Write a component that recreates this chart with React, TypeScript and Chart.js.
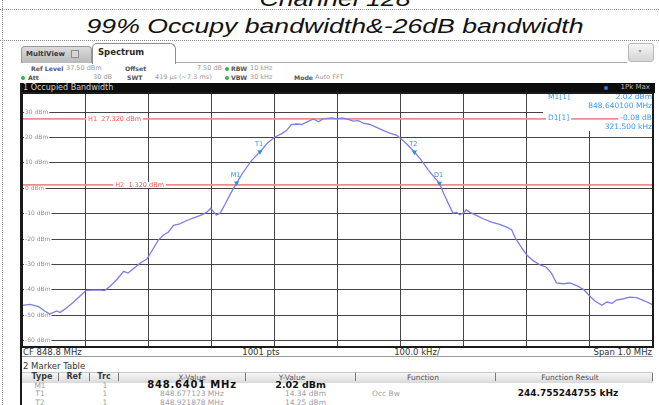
import React, { useEffect, useRef } from "react";
import { Chart, registerables } from "chart.js";

Chart.register(...registerables);

// ---------- data ----------
const START_FREQ_MHZ = 848.3;
const SPAN_KHZ = 1000;

const offsetKHz = [
  0, 13, 26, 36, 44, 50, 55, 60, 68, 81, 92, 102, 113, 124, 131, 140, 150, 161, 168, 176,
  187, 198, 205, 216, 224, 232, 240, 250, 261, 271, 285, 293, 299, 303, 308, 314, 322, 330,
  340.1, 351, 364, 377.1, 388, 400, 411, 419, 427, 435, 443, 451, 462, 470, 477, 491, 500,
  507, 517, 525, 533, 541, 551, 562, 573, 583, 594, 602, 610, 621.9, 631, 644, 661.6, 668,
  676, 683, 689, 694, 699, 704, 710, 721, 731, 744, 757, 768, 776, 781, 789, 800, 810, 821,
  831, 839, 847, 858, 868, 879, 890, 899, 908, 919, 927, 935, 942, 953, 963, 974, 987, 1000,
];

const levelDbm = [
  -46.1, -45.7, -46.6, -48.3, -49.5, -48.9, -48.3, -48.9, -47.6, -45.0, -42.4, -40.2, -40.1,
  -40.1, -40.3, -38.5, -36.0, -32.7, -33.4, -31.8, -29.5, -27.9, -25.0, -20.4, -18.5, -17.2,
  -14.6, -14.0, -12.7, -11.8, -10.5, -9.4, -7.9, -9.1, -10.5, -9.8, -6.2, -2.3,
  2.0, 6.5, 11.0, 14.3, 17.5, 20.1, 21.4, 22.7, 25.1, 25.3, 25.1, 26.0, 27.3, 26.2, 27.3,
  27.7, 27.3, 27.7, 27.1, 26.4, 26.6, 25.6, 25.1, 24.0, 22.7, 21.7, 20.8, 19.2, 17.3, 14.25,
  11.7, 7.1, 1.9, -1.9, -6.2, -9.8, -9.5, -10.4, -9.8, -8.5, -9.5, -10.8, -12.0, -13.3,
  -14.2, -15.3, -16.3, -19.2, -22.4, -26.3, -28.5, -30.2, -31.1, -33.4, -37.3, -37.6, -37.3,
  -38.3, -39.9, -42.2, -44.4, -46.1, -44.8, -45.3, -44.0, -43.5, -42.9, -43.1, -44.4, -45.9,
];

const gridKHz = [100, 200, 300, 400, 500, 600, 700, 800, 900];
const yTickDbm = [30, 20, 10, 0, -10, -20, -30, -40, -50, -60];
const Y_MIN = -62.5;
const Y_MAX = 37.5;

const lineNames = ["H1", "H2"];
const lineLevels = [27.32, 1.32];

const markerNames = ["M1", "T1", "T2", "D1"];
const markerKHz = [340.1, 377.123, 621.878, 661.6];
const markerDbm = [2.02, 14.34, 14.25, 1.94];

const deltaDb = -0.08;
const deltaKHz = 321.5;
const occBwText = "244.755244755 kHz";

const UI = '"DejaVu Sans", Verdana, sans-serif';
const TITLE_FONT = '"Liberation Sans", Arial, sans-serif';

// ---------- plugin ----------
const decor = {
  id: "decor",
  beforeDraw(chart: any) {
    const { ctx, chartArea: a } = chart;
    ctx.save();
    ctx.fillStyle = "#ffffff";
    ctx.fillRect(a.left, a.top, a.right - a.left, a.bottom - a.top);
    ctx.restore();
  },
  beforeDatasetsDraw(chart: any) {
    const { ctx, chartArea: a } = chart;
    ctx.save();
    ctx.fillStyle = "#ffffff";
    ctx.fillRect(a.right - 110, a.top + 1, 109, 37);
    ctx.restore();
  },
  afterDatasetsDraw(chart: any) {
    const { ctx, chartArea: a, scales } = chart;
    const x = scales.x;
    const y = scales.y;
    ctx.save();
    ctx.textBaseline = "middle";

    // H line labels
    const labelAt = [100, 143];
    ctx.font = `6.5px ${UI}`;
    ctx.textAlign = "left";
    lineNames.forEach((n, i) => {
      const px = x.getPixelForValue(labelAt[i]);
      const py = y.getPixelForValue(lineLevels[i]);
      const t = `${n}  ${lineLevels[i].toFixed(3)} dBm`;
      const w = ctx.measureText(t).width;
      ctx.fillStyle = "#ffffff";
      ctx.fillRect(px + 1, py - 3, w + 4, 6);
      ctx.fillStyle = "#e8605a";
      ctx.fillText(t, px + 3, py);
    });

    // marker labels
    ctx.font = `6.5px ${UI}`;
    ctx.textAlign = "center";
    ctx.fillStyle = "#3592d8";
    markerNames.forEach((n, i) => {
      const px = x.getPixelForValue(markerKHz[i]);
      const py = y.getPixelForValue(markerDbm[i]);
      ctx.fillText(n, px - 1, py - 8);
    });

    // readout box
    const col = "#3d9be3";
    const r = a.right - 1;
    const l = a.right - 105;
    const put = (t: string, xx: number, yy: number, align: string) => {
      ctx.textAlign = align;
      const w = ctx.measureText(t).width;
      const x0 = align === "right" ? xx - w : xx;
      ctx.fillStyle = "#ffffff";
      ctx.fillRect(x0 - 2, yy - 4, w + 4, 8);
      ctx.fillStyle = col;
      ctx.fillText(t, xx, yy);
    };
    ctx.font = `7.5px ${UI}`;
    put("M1[1]", l, a.top + 4, "left");
    put(`${markerDbm[0].toFixed(2)} dBm`, r, a.top + 4, "right");
    put(`${(START_FREQ_MHZ + markerKHz[0] / 1000).toFixed(6)} MHz`, r, a.top + 13, "right");
    put("D1[1]", l, a.top + 25, "left");
    put(`${deltaDb.toFixed(2)} dB`, r, a.top + 25, "right");
    put(`${deltaKHz.toFixed(3)} kHz`, r, a.top + 34, "right");

    // frame
    ctx.strokeStyle = "#1a1a1a";
    ctx.lineWidth = 2;
    ctx.strokeRect(a.left, a.top, a.right - a.left, a.bottom - a.top);
    ctx.restore();
  },
};

// ---------- text helper ----------
type TP = {
  x: number;
  y: number;
  s: number;
  c?: string;
  b?: boolean;
  a?: "l" | "c" | "r";
  f?: string;
  ls?: number;
  children: React.ReactNode;
};
const T = ({ x, y, s, c = "#333", b = false, a = "l", f = UI, ls = 0, children }: TP) => (
  <div
    style={{
      position: "absolute",
      left: x,
      top: y - s * 0.6,
      fontSize: s,
      lineHeight: `${s * 1.2}px`,
      color: c,
      fontWeight: b ? "bold" : "normal",
      fontFamily: f,
      whiteSpace: "nowrap",
      letterSpacing: ls,
      transform: a === "c" ? "translateX(-50%)" : a === "r" ? "translateX(-100%)" : undefined,
    }}
  >
    {children}
  </div>
);

const Dot = ({ x, y, c }: { x: number; y: number; c: string }) => (
  <div
    style={{
      position: "absolute",
      left: x - 2,
      top: y - 2,
      width: 4,
      height: 4,
      borderRadius: 2,
      background: c,
    }}
  />
);

const Sep = ({ x }: { x: number }) => (
  <div style={{ position: "absolute", left: x, top: 373, width: 1, height: 8, background: "#777" }} />
);

export default function App() {
  const ref = useRef<HTMLCanvasElement | null>(null);

  useEffect(() => {
    if (!ref.current) return;
    const chart = new Chart(ref.current, {
      type: "line",
      data: {
        datasets: [
          {
            label: "markers",
            data: markerKHz.map((v, i) => ({ x: v, y: markerDbm[i] })),
            showLine: false,
            pointStyle: "triangle",
            rotation: 180,
            pointRadius: 3,
            pointBackgroundColor: "#2f8fd6",
            pointBorderColor: "#2f8fd6",
            pointBorderWidth: 0,
          } as any,
          {
            label: "trace",
            data: offsetKHz.map((v, i) => ({ x: v, y: levelDbm[i] })),
            borderColor: "#7b7fe3",
            borderWidth: 1.3,
            pointRadius: 0,
            tension: 0,
          },
          ...lineLevels.map((lv, i) => ({
            label: lineNames[i],
            data: [
              { x: 0, y: lv },
              { x: SPAN_KHZ, y: lv },
            ],
            borderColor: "#f08c8c",
            borderWidth: 1.6,
            pointRadius: 0,
          })),
        ],
      },
      options: {
        animation: false,
        responsive: false,
        devicePixelRatio: 1,
        events: [],
        layout: { padding: { left: 22, right: 6, top: 93, bottom: 58 } },
        plugins: { legend: { display: false }, tooltip: { enabled: false } },
        scales: {
          x: {
            type: "linear",
            min: 0,
            max: SPAN_KHZ,
            afterBuildTicks: (s: any) => {
              s.ticks = gridKHz.map((v) => ({ value: v }));
            },
            afterFit: (s: any) => {
              s.height = 0;
            },
            ticks: { display: false },
            grid: { color: "#444444", lineWidth: 1, drawTicks: false },
            border: { display: false },
          },
          y: {
            type: "linear",
            min: Y_MIN,
            max: Y_MAX,
            afterBuildTicks: (s: any) => {
              s.ticks = yTickDbm.map((v) => ({ value: v }));
            },
            afterFit: (s: any) => {
              s.width = 0;
            },
            ticks: {
              mirror: true,
              padding: 3,
              autoSkip: false,
              color: "#8f8f8f",
              font: { size: 6, family: UI },
              callback: (v: any) => `${v} dBm`,
              showLabelBackdrop: true,
              backdropColor: "#ffffff",
              backdropPadding: { top: 0, bottom: 0, left: 1, right: 1 },
            },
            grid: { color: "#444444", lineWidth: 1, drawTicks: false },
            border: { display: false },
          },
        },
      } as any,
      plugins: [decor],
    });
    return () => chart.destroy();
  }, []);

  return (
    <div
      style={{
        position: "fixed",
        left: 0,
        top: 0,
        width: 659,
        height: 405,
        background: "#ffffff",
        overflow: "hidden",
      }}
    >
      {/* dotted page lines */}
      <div style={{ position: "absolute", left: 0, top: 9, width: 659, borderTop: "1px dotted #8a8a8a" }} />
      <div style={{ position: "absolute", left: 0, top: 40, width: 659, borderTop: "1px dotted #8a8a8a" }} />
      <div style={{ position: "absolute", left: 2, top: 0, height: 405, borderLeft: "1px dotted #8a8a8a" }} />

      {/* titles */}
      <div
        style={{
          position: "absolute",
          left: 335,
          top: -12.9,
          fontFamily: TITLE_FONT,
          fontStyle: "italic",
          fontSize: 20,
          lineHeight: "24px",
          color: "#111",
          whiteSpace: "nowrap",
          transform: "translateX(-50%) scaleX(1.33)",
        }}
      >
        Channel 128
      </div>
      <div
        style={{
          position: "absolute",
          left: 335,
          top: 13.6,
          fontFamily: TITLE_FONT,
          fontStyle: "italic",
          fontSize: 20,
          lineHeight: "24px",
          color: "#111",
          whiteSpace: "nowrap",
          transform: "translateX(-50%) scaleX(1.33)",
        }}
      >
        99% Occupy bandwidth&amp;-26dB bandwidth
      </div>

      {/* tab bar */}
      <div style={{ position: "absolute", left: 175, top: 62, width: 452, height: 1, background: "#a8a8a8" }} />
      <div
        style={{
          position: "absolute",
          left: 21,
          top: 46,
          width: 69,
          height: 16,
          borderRadius: "4px 4px 0 0",
          border: "1px solid #9a9a9a",
          borderBottom: "none",
          background: "linear-gradient(#dcdcdc, #b9b9b9)",
        }}
      />
      <T x={26} y={54} s={7} b c="#3a3a3a">MultiView</T>
      <div
        style={{
          position: "absolute",
          left: 71,
          top: 50,
          width: 6,
          height: 6,
          border: "1px solid #8c8c8c",
          background: "#d6d6d6",
        }}
      />
      <div
        style={{
          position: "absolute",
          left: 92,
          top: 43,
          width: 82,
          height: 20,
          borderRadius: "5px 6px 0 0",
          border: "1px solid #8c8c8c",
          borderBottom: "none",
          background: "#ffffff",
        }}
      />
      <T x={98} y={52.5} s={8.5} b c="#2a2a2a">Spectrum</T>
      <div
        style={{
          position: "absolute",
          left: 628,
          top: 43,
          width: 24,
          height: 17,
          borderRadius: 3,
          border: "1px solid #b8b8b8",
          background: "linear-gradient(#f6f6f6, #d4d4d4)",
        }}
      />
      <T x={640} y={51} s={6} c="#999" a="c">▾</T>

      {/* info lines */}
      <T x={31} y={69} s={6.2} b c="#555">Ref Level</T>
      <T x={66} y={69} s={6.5} c="#9a9a9a">37.50 dBm</T>
      <T x={125} y={69} s={6.2} b c="#555">Offset</T>
      <T x={222} y={69} s={6.5} c="#9a9a9a" a="r">7.50 dB</T>
      <Dot x={227} y={69} c="#3cae4a" />
      <T x={231} y={69} s={6.2} b c="#555">RBW</T>
      <T x={250} y={69} s={6.5} c="#9a9a9a">10 kHz</T>

      <Dot x={23} y={77.5} c="#3cae4a" />
      <T x={28} y={77.5} s={6.2} b c="#555">Att</T>
      <T x={112} y={77.5} s={6.5} c="#9a9a9a" a="r">30 dB</T>
      <T x={127} y={77.5} s={6.2} b c="#555">SWT</T>
      <T x={155} y={77.5} s={6.5} c="#9a9a9a">419 µs (~7.3 ms)</T>
      <Dot x={227} y={77.5} c="#3cae4a" />
      <T x={231} y={77.5} s={6.2} b c="#555">VBW</T>
      <T x={250} y={77.5} s={6.5} c="#9a9a9a">30 kHz</T>
      <T x={294} y={77.5} s={6.2} b c="#555">Mode</T>
      <T x={315} y={77.5} s={6.5} c="#9a9a9a">Auto FFT</T>

      {/* black header bar */}
      <div style={{ position: "absolute", left: 20, top: 83, width: 635, height: 10, background: "#0c0c0c" }} />
      <T x={23} y={87.5} s={8} c="#d0d0d0">1 Occupied Bandwidth</T>
      <Dot x={606} y={87.5} c="#3a6fe0" />
      <T x={650} y={87.5} s={7} c="#b8b8b8" a="r">1Pk Max</T>

      {/* left window frame */}
      <div style={{ position: "absolute", left: 20, top: 83, width: 2, height: 322, background: "#1a1a1a" }} />

      {/* bottom strip */}
      <div
        style={{
          position: "absolute",
          left: 22,
          top: 347,
          width: 631,
          height: 9,
          background: "#ffffff",
          borderBottom: "1px solid #9a9a9a",
        }}
      />
      <T x={23} y={352} s={8.5} c="#333">CF 848.8 MHz</T>
      <T x={261} y={352} s={8.5} c="#333" a="c">1001 pts</T>
      <T x={417} y={352} s={8.5} c="#333" a="c">100.0 kHz/</T>
      <T x={652} y={352} s={8.5} c="#333" a="r">Span 1.0 MHz</T>

      {/* marker table */}
      <T x={23} y={366} s={8.5} c="#333">2 Marker Table</T>
      <div
        style={{
          position: "absolute",
          left: 22,
          top: 372,
          width: 631,
          height: 10,
          background: "linear-gradient(#f7f7f7, #d9d9d9)",
          borderTop: "1px solid #c8c8c8",
        }}
      />
      <Sep x={58} />
      <Sep x={89} />
      <Sep x={118} />
      <Sep x={245} />
      <Sep x={355} />
      <Sep x={495} />
      <Sep x={652} />
      <T x={42} y={377} s={8} b c="#3a3a3a" a="c">Type</T>
      <T x={74} y={377} s={8} b c="#3a3a3a" a="c">Ref</T>
      <T x={104} y={377} s={8} b c="#3a3a3a" a="c">Trc</T>
      <T x={192} y={377} s={7.5} c="#555" a="c">X-Value</T>
      <T x={292} y={377} s={7.5} c="#555" a="c">Y-Value</T>
      <T x={423} y={377} s={7.5} c="#555" a="c">Function</T>
      <T x={570} y={377} s={7.5} c="#555" a="c">Function Result</T>

      <T x={40} y={385} s={7.5} c="#a0a0a0" a="c">{markerNames[0]}</T>
      <T x={105} y={385} s={7.5} c="#a0a0a0" a="c">1</T>
      <T x={192} y={385} s={10} b c="#111" a="c" ls={0.8}>
        {`${(START_FREQ_MHZ + markerKHz[0] / 1000).toFixed(4)} MHz`}
      </T>
      <T x={326} y={385} s={9.5} b c="#111" a="r">{`${markerDbm[0].toFixed(2)} dBm`}</T>

      <T x={40} y={393.5} s={7.5} c="#a0a0a0" a="c">{markerNames[1]}</T>
      <T x={105} y={393.5} s={7.5} c="#a0a0a0" a="c">1</T>
      <T x={192} y={393.5} s={7.5} c="#a0a0a0" a="c">
        {`${(START_FREQ_MHZ + markerKHz[1] / 1000).toFixed(6)} MHz`}
      </T>
      <T x={326} y={393.5} s={7.5} c="#a0a0a0" a="r">{`${markerDbm[1].toFixed(2)} dBm`}</T>
      <T x={372} y={393.5} s={7.5} c="#a0a0a0">Occ Bw</T>
      <T x={568} y={393.5} s={9} b c="#111" a="c">{occBwText}</T>

      <T x={40} y={402} s={7.5} c="#a0a0a0" a="c">{markerNames[2]}</T>
      <T x={105} y={402} s={7.5} c="#a0a0a0" a="c">1</T>
      <T x={192} y={402} s={7.5} c="#a0a0a0" a="c">
        {`${(START_FREQ_MHZ + markerKHz[2] / 1000).toFixed(6)} MHz`}
      </T>
      <T x={326} y={402} s={7.5} c="#a0a0a0" a="r">{`${markerDbm[2].toFixed(2)} dBm`}</T>

      <canvas
        ref={ref}
        width={659}
        height={405}
        style={{ position: "absolute", left: 0, top: 0, width: 659, height: 405 }}
      />
    </div>
  );
}
